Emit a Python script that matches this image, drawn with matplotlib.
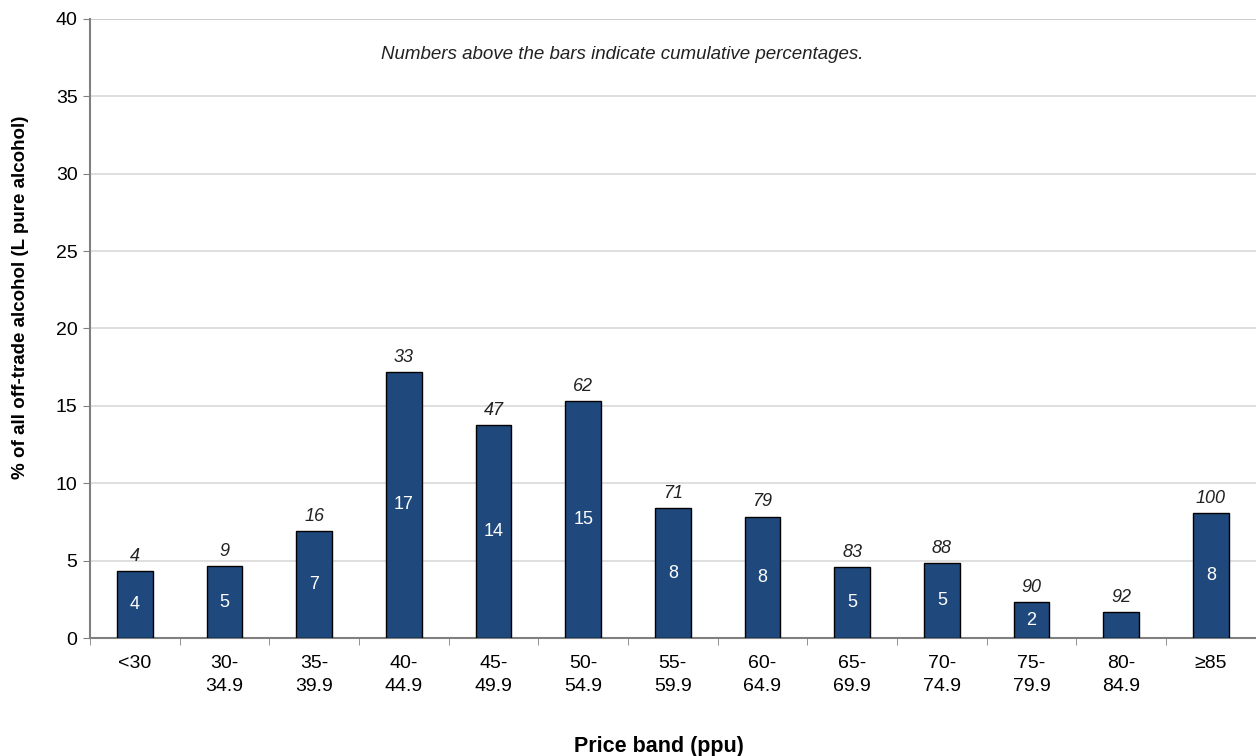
import numpy as np
import matplotlib.pyplot as plt

# --- Data ---
bands = ['<30', '30-\n34.9', '35-\n39.9', '40-\n44.9', '45-\n49.9', '50-\n54.9',
         '55-\n59.9', '60-\n64.9', '65-\n69.9', '70-\n74.9', '75-\n79.9', '80-\n84.9', '\u226585']
share = [4.35, 4.65, 6.9, 17.2, 13.75, 15.3, 8.4, 7.85, 4.6, 4.85, 2.3, 1.7, 8.05]
inner_labels = ['4', '5', '7', '17', '14', '15', '8', '8', '5', '5', '2', '', '8']
cumulative = [4, 9, 16, 33, 47, 62, 71, 79, 83, 88, 90, 92, 100]

BAR_COLOR = '#1F497D'
GRID_COLOR = '#D9D9D9'
AXIS_COLOR = '#808080'

plt.rcParams['font.family'] = ['Liberation Sans', 'DejaVu Sans']

fig = plt.figure(figsize=(12.56, 7.56), dpi=100)
ax = fig.add_axes([0.0717, 0.156, 0.928, 0.819])

x = np.arange(len(bands))
bars = ax.bar(x, share, width=0.4, color=BAR_COLOR, edgecolor='black', linewidth=1.0, zorder=3)

for xi, v, inner, cum in zip(x, share, inner_labels, cumulative):
    if inner:
        ax.text(xi, v / 2, inner, ha='center', va='center', color='white', fontsize=13, zorder=4)
    ax.text(xi, v + 0.4, str(cum), ha='center', va='bottom', fontsize=13, style='italic', color='#222222')

ax.set_xlim(-0.5, len(bands) - 0.5)
ax.set_ylim(0, 40)
ax.set_yticks(np.arange(0, 41, 5))
ax.set_xticks(x)
ax.set_xticklabels(bands, fontsize=14, linespacing=1.45)
ax.set_xticks(np.arange(-0.5, len(bands), 1), minor=True)
ax.tick_params(axis='x', which='major', length=0, pad=12)
ax.tick_params(axis='x', which='minor', length=5, color=AXIS_COLOR)
ax.tick_params(axis='y', length=5, color=AXIS_COLOR, labelsize=14, pad=4)

ax.grid(axis='y', color=GRID_COLOR, linewidth=1.2, zorder=0)
for side in ['right', 'top']:
    ax.spines[side].set_visible(False)
ax.spines['left'].set_color(AXIS_COLOR)
ax.spines['left'].set_linewidth(1.5)
ax.spines['bottom'].set_color(AXIS_COLOR)
ax.spines['bottom'].set_linewidth(1.5)
ax.axhline(40, color=AXIS_COLOR, linewidth=1.2, zorder=1)

ax.set_ylabel('% of all off-trade alcohol (L pure alcohol)', fontsize=13.5, fontweight='bold')
ax.yaxis.set_label_coords(-0.052, 0.55)
ax.set_xlabel('Price band (ppu)', fontsize=15.5, fontweight='bold')
ax.xaxis.set_label_coords(0.488, -0.158)

ax.text(0.457, 0.943, 'Numbers above the bars indicate cumulative percentages.', transform=ax.transAxes,
        ha='center', va='center', fontsize=13.5, style='italic', color='#222222')

plt.savefig('out.png', dpi=100)
